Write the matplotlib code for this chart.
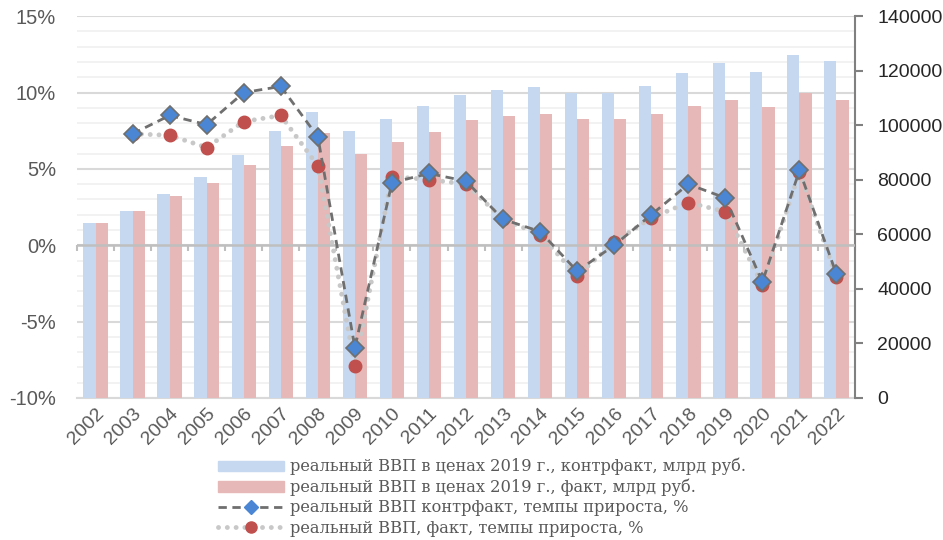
import numpy as np
import matplotlib
matplotlib.use('Agg')
import matplotlib.pyplot as plt
from matplotlib.patches import Patch
from matplotlib.lines import Line2D

years = [str(y) for y in range(2002, 2023)]

# real GDP in 2019 prices, bln rub (right axis)
gdp_counter = [64100, 68700, 74800, 81000, 89100, 98000, 105000, 98000, 102300, 106900,
               111200, 113100, 114100, 111900, 111900, 114500, 119200, 123000, 119700,
               125800, 123400]
gdp_fact = [64100, 68700, 73900, 78800, 85300, 92500, 97100, 89500, 93700, 97500,
            101800, 103300, 104100, 102300, 102300, 104100, 106900, 109400, 106600,
            111700, 109400]

# growth rates, %
growth_counter = [np.nan, 7.3, 8.5, 7.9, 10.0, 10.4, 7.1, -6.7, 4.1, 4.7, 4.2, 1.7, 0.9,
                  -1.7, 0.0, 2.0, 4.0, 3.1, -2.4, 4.9, -1.9]
growth_fact = [np.nan, 7.3, 7.2, 6.4, 8.1, 8.5, 5.2, -7.9, 4.5, 4.3, 4.0, 1.7, 0.7,
               -2.0, 0.2, 1.8, 2.8, 2.2, -2.6, 4.8, -2.1]

labels = ['реальный ВВП в ценах 2019 г., контрфакт, млрд руб.',
          'реальный ВВП в ценах 2019 г., факт, млрд руб.',
          'реальный ВВП контрфакт, темпы прироста, %',
          'реальный ВВП, факт, темпы прироста, %']

blue_bar = '#C6D8F0'
pink_bar = '#E6B8B7'
blue_mk = '#4A86D4'
red_mk = '#C0504D'
txt = '#595959'

plt.rcParams['font.family'] = ['Liberation Sans', 'DejaVu Sans']

fig = plt.figure(figsize=(9.43, 5.4), dpi=100)
ax = fig.add_axes([0.0817, 0.263, 0.825, 0.707])
ax2 = ax.twinx()

x = np.arange(len(years))
ax.set_xlim(-0.5, len(years) - 0.5)
ax.set_ylim(-10, 15)
ax2.set_ylim(0, 140000)

# grid (percent axis)
ax.set_yticks(np.arange(-10, 16, 5))
ax.set_yticks(np.arange(-10, 16, 1), minor=True)
ax.grid(axis='y', which='minor', color='#F0F0F0', lw=1.2)
ax.grid(axis='y', which='major', color='#D9D9D9', lw=1.5)
ax.set_yticklabels(['%d%%' % v for v in range(-10, 16, 5)])
ax.tick_params(axis='y', which='both', length=0, labelsize=14.5, labelcolor=txt, pad=15)
ax.set_xticks(x)
ax.set_xticklabels(years, rotation=45, ha='right', rotation_mode='anchor')
ax.tick_params(axis='x', length=0, labelsize=14, labelcolor=txt, pad=5)
for s in ['left', 'top', 'right']:
    ax.spines[s].set_visible(False)
ax.spines['bottom'].set_color('#D9D9D9')
ax.spines['bottom'].set_linewidth(1.5)

# bars
w = 0.33
ax2.bar(x - w / 2, gdp_counter, w, color=blue_bar, zorder=2)
ax2.bar(x + w / 2, gdp_fact, w, color=pink_bar, zorder=2)
ax2.set_yticks(np.arange(0, 140001, 20000))
ax2.tick_params(axis='y', direction='out', length=6, width=1.5, color='#808080',
                labelsize=14, labelcolor='#262626', pad=10)
for s in ['left', 'top', 'bottom']:
    ax2.spines[s].set_visible(False)
ax2.spines['right'].set_color('#808080')
ax2.spines['right'].set_linewidth(1.5)

# zero axis with category ticks
ax2.plot([-0.5, len(years) - 0.5], [0, 0], color='#BFBFBF', lw=1.8, zorder=3,
         transform=ax.transData)
sec = ax2.secondary_xaxis(0.4)
sec.set_xticks(np.arange(-0.5, len(years), 1))
sec.tick_params(axis='x', direction='out', length=4, width=1.5, color='#BFBFBF',
                labelbottom=False, labeltop=False)
sec.spines['bottom'].set_visible(False)
sec.spines['top'].set_visible(False)

# growth lines (drawn above bars, in percent coordinates)
ax2.plot(x, growth_fact, color='#C8C8C8', lw=3.5, ls=(0, (0.01, 1.8)),
         dash_capstyle='round', marker='o', ms=9, mfc=red_mk, mec=red_mk,
         zorder=4, transform=ax.transData)
ax2.plot(x, growth_counter, color='#6F6F6F', lw=2, ls=(0, (3, 2)),
         marker='D', ms=9.5, mfc=blue_mk, mec='#6F6F6F', mew=1.2,
         zorder=5, transform=ax.transData)

handles = [Patch(color=blue_bar), Patch(color=pink_bar),
           Line2D([], [], color='#6F6F6F', lw=2, ls=(0, (3, 2)), marker='D', ms=7,
                  mfc=blue_mk, mec=blue_mk),
           Line2D([], [], color='#C8C8C8', lw=3.5, ls=(0, (0.01, 1.8)),
                  dash_capstyle='round', marker='o', ms=8, mfc=red_mk, mec=red_mk)]
fig.legend(handles, labels, loc='upper left', bbox_to_anchor=(0.231, 0.152),
           frameon=False, borderpad=0, borderaxespad=0, handlelength=4.1,
           handleheight=0.6, handletextpad=0.35, labelspacing=0.2,
           prop={'family': ['DejaVu Serif'], 'size': 11.7},
           labelcolor=txt)

fig.savefig('out.png', dpi=100)
